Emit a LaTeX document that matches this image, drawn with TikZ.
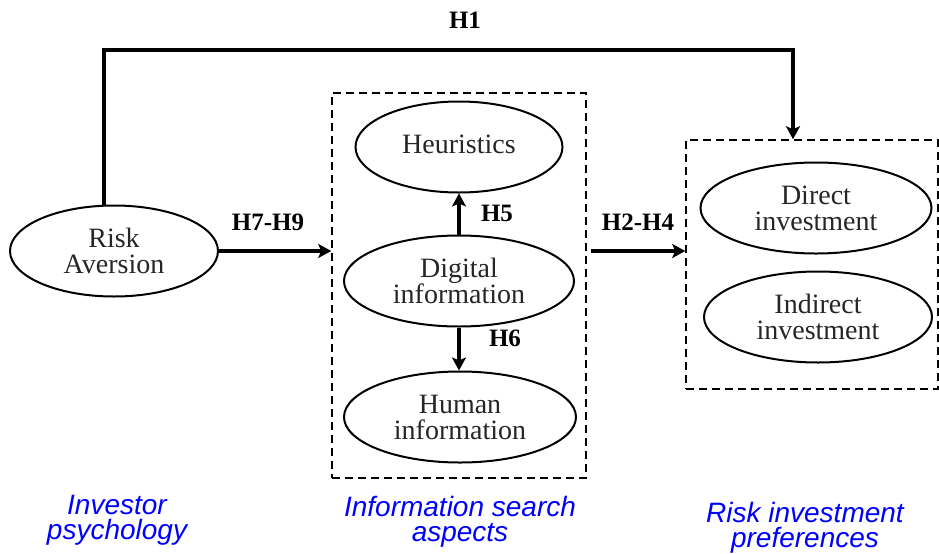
\documentclass[tikz,border=0pt]{standalone}
\usepackage{fontspec}
\setmainfont{Liberation Serif}
\newfontfamily\tagfont{Liberation Sans}
\usetikzlibrary{shapes.geometric,arrows.meta}

\begin{document}
\begin{tikzpicture}[x=0.5pt,y=-0.5pt,
  var/.style={draw,line width=1pt,ellipse,inner sep=0pt,minimum width=#1,minimum height=45.5pt,
    align=center,text=black!85,font=\fontsize{14}{13}\selectfont},
  grp/.style={draw,dash pattern=on 4pt off 2.5pt,line width=0.75pt,inner sep=0pt},
  hyp/.style={line width=1.6pt,-{Stealth[length=6.5pt,width=7pt,inset=1.5pt]}},
  lab/.style={font=\fontsize{12.5}{13}\selectfont\bfseries},
  part/.style={anchor=north,inner sep=0pt,align=center,text=blue,font=\tagfont\itshape\fontsize{14}{12.2}\selectfont}]
  \useasboundingbox (0,0) rectangle (939,553);
  % variables
  \node[var=104pt] (risk) at (114,251) {Risk\\Aversion};
  \node[var=103.5pt] (heu) at (459,147) {\raisebox{2.5pt}{Heuristics}};
  \node[var=115pt] (dig) at (459,281) {Digital\\information};
  \node[var=116pt] (hum) at (460,417) {Human\\information};
  \node[var=115.5pt] (dir) at (816,208) {Direct\\investment};
  \node[var=114pt] (ind) at (818,317) {Indirect\\investment};
  % dashed groups
  \node[grp,minimum width=127pt,minimum height=192.5pt] (srch) at (459,285.5) {};
  \node[grp,minimum width=126pt,minimum height=124.5pt] (pref) at (812,264.5) {};
  % hypotheses
  \coordinate (top) at (450,50);
  \draw[hyp] ([xshift=-5pt]risk.north) |- (top) -| ([xshift=-9.5pt]pref.north);
  \draw[hyp] (risk.east) -- (risk.east -| srch.west);
  \draw[hyp,shorten <=2pt] (srch.east |- risk.east) -- (pref.west |- risk.east);
  \draw[hyp] (dig.north) -- (dig.north |- heu.south);
  \draw[hyp] (dig.south) -- (dig.south |- hum.north);
  \node[lab] (h1) at (465,20) {H1};
  \node[lab] (h79) at (268,222) {H7-H9};
  \node[lab] (h24) at (638,222) {H2-H4};
  \node[lab] (h5) at (497,213) {H5};
  \node[lab] (h6) at (505,338) {H6};
  % blocks
  \node[part] (psy) at (117,495) {Investor\\psychology};
  \node[part] (info) at (460,496) {Information search\\aspects};
  \node[part] (riskpref) at (805,502) {Risk investment\\preferences};
\end{tikzpicture}
\end{document}
